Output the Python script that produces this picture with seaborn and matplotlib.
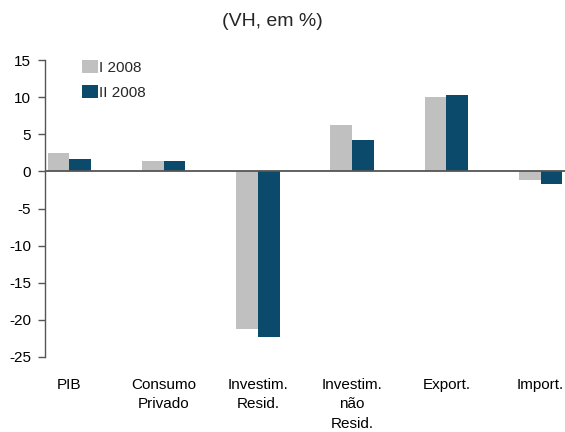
import pandas as pd
import numpy as np
import matplotlib
matplotlib.use("Agg")
import matplotlib.pyplot as plt
import seaborn as sns

# chart data (VH, em %)
categorias = ["PIB", "Consumo\nPrivado", "Investim.\nResid.", "Investim.\nnão\nResid.", "Export.", "Import."]
series = ["I 2008", "II 2008"]
valores_i = [2.5, 1.4, -21.2, 6.2, 10.0, -1.2]
valores_ii = [1.7, 1.4, -22.3, 4.2, 10.3, -1.7]
cores = ["#C0C0C0", "#0B4A6B"]
yticks = [15, 10, 5, 0, -5, -10, -15, -20, -25]

df = pd.DataFrame({
    "categoria": categorias * 2,
    "serie": [series[0]] * len(categorias) + [series[1]] * len(categorias),
    "valor": valores_i + valores_ii,
})

sns.set_theme(style="white")
plt.rcParams["font.family"] = ["Liberation Sans", "DejaVu Sans"]
plt.rcParams["axes.unicode_minus"] = False

fig = plt.figure(figsize=(5.65, 4.32), dpi=100)
ax = fig.add_axes([45 / 565, 1 - 357 / 432, 1 - 45 / 565, (357 - 60) / 432])

sns.barplot(data=df, x="categoria", y="valor", hue="serie", palette=cores,
            width=0.46, gap=0, saturation=1, linewidth=0, edgecolor="none",
            ax=ax, legend=True)

ax.set_xlim(-0.26, 5.26)
ax.set_ylim(-25, 15)
ax.set_yticks(yticks)
ax.set_xlabel("")
ax.set_ylabel("")

# zero line
ax.axhline(0, color="#555555", lw=1.3, zorder=3)

for side in ["top", "right", "bottom"]:
    ax.spines[side].set_visible(False)
ax.spines["left"].set_color("#555555")
ax.spines["left"].set_linewidth(1.0)

ax.tick_params(axis="y", left=True, length=5, width=1, color="#555555",
               labelsize=11, pad=5, direction="out", labelcolor="black")
ax.tick_params(axis="x", length=0, labelsize=11, pad=15, labelcolor="black")
for lbl in ax.get_xticklabels():
    lbl.set_linespacing(1.5)

leg = ax.legend(loc="upper left", bbox_to_anchor=(0.06, 1.022), frameon=False,
                fontsize=11, handlelength=1.0, handleheight=1.0,
                handletextpad=0.1, labelspacing=0.65, borderaxespad=0)

fig.text(272 / 565, 1 - 22 / 432, "(VH, em %)", ha="center", va="center", fontsize=14)

fig.savefig("out.png", dpi=100)
